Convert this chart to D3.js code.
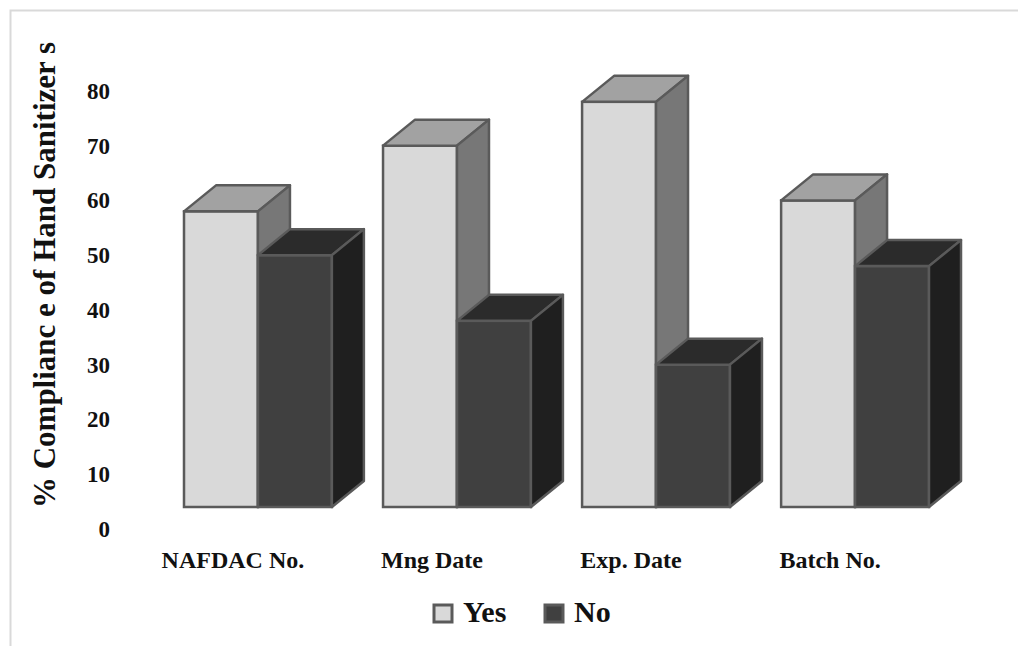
<!DOCTYPE html>
<html>
<head>
<meta charset="utf-8">
<script src="https://cdn.jsdelivr.net/npm/d3@7"></script>
<style>
  html, body { margin: 0; padding: 0; background: #fff; }
  svg { display: block; font-family: "Liberation Serif", "Times New Roman", serif; font-weight: bold; }
</style>
</head>
<body>
<svg id="chart" width="1018" height="646"></svg>
<script>
const categories = ["NAFDAC No.", "Mng Date", "Exp. Date", "Batch No."];
const yes_values = [54, 66, 74, 56];
const no_values = [46, 34, 26, 44];
const y_ticks = [0, 10, 20, 30, 40, 50, 60, 70, 80];

const svg = d3.select("#chart");
const width = 1018;
const height = 646;

// depth of the 3d boxes
const dx = 32;
const dy = -26;

// outer frame, only top and left edges are visible
svg.append("rect")
    .attr("x", 10.5)
    .attr("y", 10.5)
    .attr("width", width + 20)
    .attr("height", height + 20)
    .attr("fill", "none")
    .attr("stroke", "#d9d9d9")
    .attr("stroke-width", 2);

const x = d3.scaleBand()
    .domain(categories)
    .range([184, 929])
    .paddingInner(0.257)
    .paddingOuter(0);

const sub = d3.scaleBand()
    .domain(["Yes", "No"])
    .range([0, x.bandwidth()]);

const y = d3.scaleLinear()
    .domain([0, 80])
    .range([507, 507 - 438]);

const series = [
    {key: "Yes", values: yes_values, front: "#d9d9d9", top: "#a2a2a2", side: "#777777"},
    {key: "No", values: no_values, front: "#404040", top: "#2b2b2b", side: "#1f1f1f"}
];

const bars = [];
categories.forEach((c, i) => {
    series.forEach(s => {
        bars.push({cat: c, key: s.key, value: s.values[i], s: s});
    });
});

const box = svg.append("g").attr("class", "bars")
    .selectAll("g")
    .data(bars)
    .join("g");

function faces(d) {
    const x0 = x(d.cat) + sub(d.key);
    const x1 = x0 + sub.bandwidth();
    const yt = y(d.value);
    const yb = y(0);
    return {x0, x1, yt, yb};
}

const stroke = "#5a5a5a";
const sw = 2.5;

box.append("rect")
    .attr("x", d => faces(d).x0)
    .attr("y", d => faces(d).yt)
    .attr("width", sub.bandwidth())
    .attr("height", d => faces(d).yb - faces(d).yt)
    .attr("fill", d => d.s.front)
    .attr("stroke", stroke)
    .attr("stroke-width", sw);

box.append("path")
    .attr("d", d => {
        const f = faces(d);
        return `M${f.x0},${f.yt}L${f.x0 + dx},${f.yt + dy}L${f.x1 + dx},${f.yt + dy}L${f.x1},${f.yt}Z`;
    })
    .attr("fill", d => d.s.top)
    .attr("stroke", stroke)
    .attr("stroke-width", sw)
    .attr("stroke-linejoin", "round");

box.append("path")
    .attr("d", d => {
        const f = faces(d);
        return `M${f.x1},${f.yt}L${f.x1 + dx},${f.yt + dy}L${f.x1 + dx},${f.yb + dy}L${f.x1},${f.yb}Z`;
    })
    .attr("fill", d => d.s.side)
    .attr("stroke", stroke)
    .attr("stroke-width", sw)
    .attr("stroke-linejoin", "round");

// value axis labels sit a little below the floor line
const y_axis = svg.append("g")
    .attr("transform", "translate(110, 22)")
    .call(d3.axisLeft(y).tickValues(y_ticks).tickSize(0).tickPadding(0));

y_axis.select(".domain").remove();
y_axis.selectAll("text")
    .attr("font-family", "Liberation Serif, serif")
    .attr("font-weight", "bold")
    .attr("font-size", "23px")
    .attr("fill", "#111");

// category labels
svg.append("g")
    .selectAll("text")
    .data(categories)
    .join("text")
    .attr("x", d => x(d) + x.bandwidth() / 2 - 25)
    .attr("y", 568)
    .attr("text-anchor", "middle")
    .attr("font-size", "24px")
    .attr("fill", "#111")
    .text(d => d);

// y title
svg.append("text")
    .attr("transform", "translate(55, 275) rotate(-90)")
    .attr("text-anchor", "middle")
    .attr("font-size", "31px")
    .attr("fill", "#111")
    .text("% Complianc e of Hand Sanitizer s");

// legend
const legend = svg.append("g");
const legend_items = [
    {s: series[0], x: 434},
    {s: series[1], x: 545}
];
legend.selectAll("rect")
    .data(legend_items)
    .join("rect")
    .attr("x", d => d.x)
    .attr("y", 605)
    .attr("width", 18)
    .attr("height", 17)
    .attr("fill", d => d.s.front)
    .attr("stroke", stroke)
    .attr("stroke-width", 3);

legend.selectAll("text")
    .data(legend_items)
    .join("text")
    .attr("x", d => d.x + 29)
    .attr("y", 622)
    .attr("font-size", "30px")
    .attr("fill", "#111")
    .text(d => d.s.key);
</script>
</body>
</html>
